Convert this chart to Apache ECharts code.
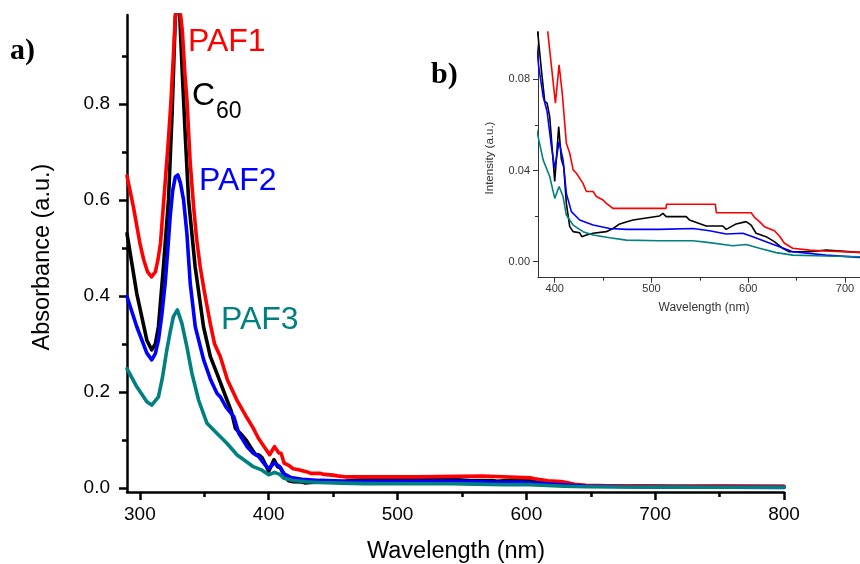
<!DOCTYPE html>
<html>
<head>
<meta charset="utf-8">
<script src="https://cdn.jsdelivr.net/npm/echarts@6/dist/echarts.min.js"></script>
<style>html,body{margin:0;padding:0;background:#fff}#c{width:860px;height:564px}</style>
</head>
<body>
<div id="c"></div>
<script>
// ---- data (wavelength in nm, absorbance in a.u.) ----
var paf1X = [290,295,300,303,306,309,312,314,316,318,320,322,324,326,327.5,329.4,331,333,335,336.5,339,341.7,344,346.8,350,354.6,358,362.4,368,375,383,388,392,396.6,400.7,404.5,407.9,409.6,412,415.5,419,422.4,429.2,432.7,439.6,443,449.9,453.3,460.2,515,515.5,566,567,603,606.4,611.6,616.7,627,632.2,637.4,646,663.2,680.4,714.8,750,800];
var paf1Y = [0.65,0.585,0.51,0.475,0.45,0.44,0.45,0.475,0.51,0.58,0.65,0.72,0.80,0.90,0.98,1.03,1.0,0.95,0.86,0.81,0.68,0.586,0.52,0.461,0.41,0.343,0.30,0.274,0.225,0.185,0.147,0.125,0.104,0.0857,0.0696,0.0864,0.0733,0.0725,0.052,0.0476,0.0403,0.0388,0.0344,0.0308,0.0308,0.0286,0.0271,0.0256,0.0234,0.0234,0.0252,0.0252,0.0215,0.0215,0.0195,0.0176,0.0154,0.0136,0.0113,0.0081,0.0059,0.0051,0.0047,0.0041,0.0045,0.004];

var c60X = [290,297.6,305.4,309.2,312,314.4,318.3,322.2,325,327.5,329.4,331,333,335.5,337.8,342.9,349.4,354.7,359.8,367.7,371,374.2,379.4,382.8,386.2,389.7,392.1,394.8,400,404.1,406.9,409.3,412,415.5,419,425.8,428,432.7,439.6,453.3,460.2,467.1,480.8,491.2,508.4,511.8,515.2,535.9,539.3,556.5,573.7,577.2,587.5,597.8,603,608.1,618.4,627,635.6,642.5,663.2,680.4,714.8,750,800];
var c60Y = [0.53,0.405,0.308,0.288,0.30,0.336,0.461,0.60,0.78,0.98,1.03,0.98,0.86,0.72,0.60,0.461,0.336,0.274,0.239,0.183,0.16,0.124,0.11,0.099,0.0842,0.0703,0.0696,0.0637,0.0352,0.0593,0.0447,0.0417,0.0256,0.0154,0.0132,0.0127,0.011,0.0117,0.0125,0.0132,0.0146,0.0166,0.0183,0.019,0.0201,0.0212,0.0198,0.0198,0.0183,0.0157,0.0157,0.0142,0.0166,0.0176,0.0161,0.0125,0.011,0.0088,0.0059,0.0044,0.0044,0.0051,0.0041,0.004,0.0035];

var paf2X = [290,297.6,305.4,309.2,312,314.4,317,319.6,321.5,323.5,325.5,327.5,329.5,331.5,333.9,336.5,339.1,343,349.5,355,359.9,362.5,367,372.9,376.8,383.3,388,392.1,396.6,400,404.5,408.6,412,417.2,425.8,439.6,456.8,474,508.4,542.8,560,577.2,594.4,604.7,618.4,632.2,646,680.4,714.8,750,800];
var paf2Y = [0.399,0.336,0.281,0.267,0.28,0.308,0.36,0.426,0.49,0.565,0.62,0.648,0.652,0.635,0.6,0.53,0.426,0.336,0.267,0.225,0.197,0.19,0.168,0.149,0.114,0.086,0.0725,0.0659,0.0505,0.041,0.0527,0.0447,0.03,0.022,0.0183,0.0161,0.0146,0.0142,0.0142,0.0146,0.0136,0.0122,0.0125,0.011,0.0088,0.0066,0.0044,0.0029,0.0019,0.0018,0.0016];

var paf3X = [290,297.6,305.4,309.2,314.4,317.5,320.9,323.5,326,329.1,332.6,336.5,340.4,345.6,352.1,359.9,367.7,375.5,382.8,388,394.8,400,404.5,408.6,412,419,429.2,439.6,456.8,474,508.4,542.8,560,584,597.8,611.6,628.8,646,680.4,714.8,750,800];
var paf3Y = [0.249,0.211,0.18,0.173,0.19,0.23,0.2875,0.325,0.357,0.371,0.343,0.294,0.239,0.183,0.135,0.114,0.093,0.069,0.0549,0.0447,0.0374,0.0278,0.033,0.0286,0.0205,0.0161,0.0132,0.0117,0.0105,0.0095,0.0092,0.0092,0.0084,0.007,0.0076,0.0059,0.004,0.0029,0.0025,0.0022,0.002,0.0018];

// tick values
var mainXTicks = [300,400,500,600,700,800];
var mainXMinor = [350,450,550,650,750];
var mainYTicks = [0,0.2,0.4,0.6,0.8];
var mainYMinor = [0.1,0.3,0.5,0.7,0.9];
var insetXTicks = [400,500,600,700];
var insetXMinor = [450,550,650];
var insetYTicks = [0,0.04,0.08];
var insetYMinor = [0.02,0.06];

var seriesNames = ['C60','PAF1','PAF2','PAF3'];
var seriesColors = ['#000000','#ff0000','#0000ff','#008080'];
var seriesXs = [c60X, paf1X, paf2X, paf3X];
var seriesYs = [c60Y, paf1Y, paf2Y, paf3Y];

function pairs(xs, ys){ return xs.map(function(x,i){ return [x, ys[i]]; }); }

var FONT = "'Liberation Sans', Arial, sans-serif";
var chart = echarts.init(document.getElementById('c'), null, {renderer:'canvas'});

function mkX(grid, min, max, ticks, minor, cfg){
  return [{
    type:'value', gridIndex:grid, min:min, max:max, position:'bottom',
    splitLine:{show:false},
    axisLine:{show:true, onZero:false, lineStyle:{color:cfg.color, width:cfg.lw}},
    axisTick:{show:true, inside:false, customValues:ticks, length:cfg.tl, lineStyle:{color:cfg.color, width:cfg.lw}},
    axisLabel:{show:true, customValues:ticks, color:cfg.color, fontSize:cfg.fs, fontFamily:FONT, margin:cfg.xm}
  },{
    type:'value', gridIndex:grid, min:min, max:max, position:'bottom',
    splitLine:{show:false},
    axisLine:{show:false, onZero:false},
    axisTick:{show:true, inside:false, customValues:minor, length:cfg.ml, lineStyle:{color:cfg.color, width:cfg.lw}},
    axisLabel:{show:false}
  }];
}
function mkY(grid, min, max, ticks, minor, cfg, dec){
  return [{
    type:'value', gridIndex:grid, min:min, max:max, position:'left',
    splitLine:{show:false},
    axisLine:{show:true, onZero:false, lineStyle:{color:cfg.color, width:cfg.lw}},
    axisTick:{show:true, inside:false, customValues:ticks, length:cfg.tl, lineStyle:{color:cfg.color, width:cfg.lw}},
    axisLabel:{show:true, customValues:ticks, color:cfg.color, fontSize:cfg.fs, fontFamily:FONT, margin:cfg.ym,
      formatter:function(v){ return Number(v).toFixed(dec); }}
  },{
    type:'value', gridIndex:grid, min:min, max:max, position:'left',
    splitLine:{show:false},
    axisLine:{show:false, onZero:false},
    axisTick:{show:true, inside:false, customValues:minor, length:cfg.ml, lineStyle:{color:cfg.color, width:cfg.lw}},
    axisLabel:{show:false}
  }];
}

var mainCfg = {color:'#000', lw:2.5, tl:8, ml:5, fs:19, xm:13, ym:17};
var insetCfg = {color:'#333', lw:1, tl:5, ml:3, fs:11, xm:6, ym:8};

var xAxes = mkX(0, 290, 800, mainXTicks, mainXMinor, mainCfg).concat(mkX(1, 382.7, 715.5, insetXTicks, insetXMinor, insetCfg));
var yAxes = mkY(0, -0.008, 0.985, mainYTicks, mainYMinor, mainCfg, 1).concat(mkY(1, -0.007, 0.1008, insetYTicks, insetYMinor, insetCfg, 2));

var series = [];
for (var i=0;i<4;i++){
  series.push({type:'line', name:seriesNames[i], xAxisIndex:0, yAxisIndex:0, data:pairs(seriesXs[i], seriesYs[i]),
    showSymbol:false, symbol:'none', clip:true,
    lineStyle:{color:seriesColors[i], width:3.6, join:'round', cap:'round'}, z:2+i});
}
for (var j=0;j<4;j++){
  series.push({type:'line', name:seriesNames[j]+'-inset', xAxisIndex:2, yAxisIndex:2, data:pairs(seriesXs[j], seriesYs[j]),
    showSymbol:false, symbol:'none', clip:true, lineStyle:{color:seriesColors[j], width:1.6}, z:2+j});
}

function txt(s, x, y, size, color, opts){
  opts = opts || {};
  return {type:'text', x:x, y:y, rotation:opts.rot||0, z:100,
    style:{text:s, fill:color, font:(opts.weight||'normal')+' '+size+'px '+(opts.family||FONT),
      align:opts.align||'left', verticalAlign:'middle'}};
}

var graphics = [
  txt('PAF1', 188, 42, 32, '#ff0000'),
  txt('C', 192, 96, 32, '#000000'),
  txt('60', 216, 112, 23, '#000000'),
  txt('PAF2', 199, 181, 32, '#0000ff'),
  txt('PAF3', 221, 320, 32, '#008080'),
  txt('a)', 10, 51, 30, '#000', {weight:'bold', family:"'Liberation Serif','Times New Roman',serif"}),
  txt('b)', 431, 75, 30, '#000', {weight:'bold', family:"'Liberation Serif','Times New Roman',serif"}),
  txt('Absorbance (a.u.)', 43, 257, 23.5, '#000', {align:'center', rot:Math.PI/2}),
  txt('Wavelength (nm)', 456, 552, 23.5, '#000', {align:'center'}),
  txt('Intensity (a.u.)', 490, 158, 11.5, '#333', {align:'center', rot:Math.PI/2}),
  txt('Wavelength (nm)', 704, 308, 12, '#333', {align:'center'})
];

chart.setOption({
  animation:false,
  backgroundColor:'#fff',
  grid:[
    {left:127, top:15, width:657, height:477, containLabel:false},
    {left:538, top:32, width:322, height:245.7, containLabel:false}
  ],
  xAxis:xAxes,
  yAxis:yAxes,
  series:series,
  graphic:graphics
});
</script>
</body>
</html>
